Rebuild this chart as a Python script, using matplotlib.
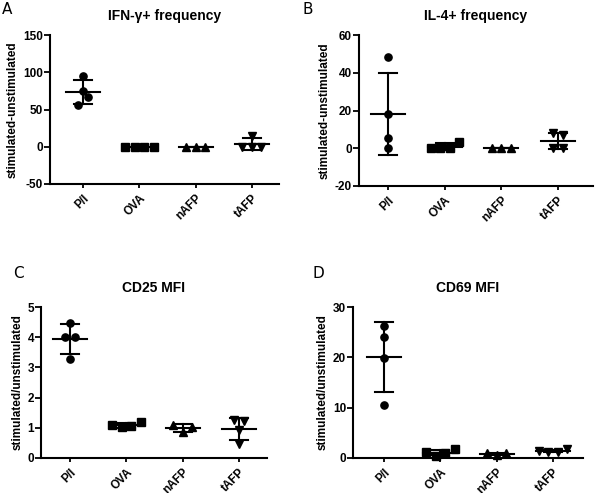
import numpy as np
import matplotlib
matplotlib.use('Agg')
import matplotlib.pyplot as plt

plt.rcParams['font.family'] = ['Liberation Sans', 'DejaVu Sans']
plt.rcParams['font.weight'] = 'bold'
plt.rcParams['axes.titleweight'] = 'bold'
plt.rcParams['axes.labelweight'] = 'bold'

groups = ['P/I', 'OVA', 'nAFP', 'tAFP']
markers = ['o', 's', '^', 'v']

# panel A: IFN-g+ frequency
ifn_pi = [56, 67, 75, 95]
ifn_ova = [0, 0, 0, 0]
ifn_nafp = [0, 0, 0]
ifn_tafp = [0, 0, 0, 15]

# panel B: IL-4+ frequency
il4_pi = [48.5, 18, 5.5, 0]
il4_ova = [0, 0, 0, 3.5]
il4_nafp = [0, 0, 0]
il4_tafp = [8.2, 7.2, 0.3, 0]

# panel C: CD25 MFI
cd25_pi = [4.47, 4.0, 4.0, 3.28]
cd25_ova = [1.08, 1.02, 1.05, 1.2]
cd25_nafp = [1.1, 0.85, 1.02]
cd25_tafp = [1.27, 1.22, 0.92, 0.48]

# panel D: CD69 MFI
cd69_pi = [26.2, 24.1, 19.8, 10.5]
cd69_ova = [1.2, 0.4, 1.0, 1.7]
cd69_nafp = [0.95, 0.5, 0.9]
cd69_tafp = [1.3, 1.2, 1.25, 1.8]

panels = [
    ('A', 'IFN-\u03b3+ frequency', 'stimulated-unstimulated',
     [ifn_pi, ifn_ova, ifn_nafp, ifn_tafp], (-50, 150), [-50, 0, 50, 100, 150]),
    ('B', 'IL-4+ frequency', 'stimulated-unstimulated',
     [il4_pi, il4_ova, il4_nafp, il4_tafp], (-20, 60), [-20, 0, 20, 40, 60]),
    ('C', 'CD25 MFI', 'stimulated/unstimulated',
     [cd25_pi, cd25_ova, cd25_nafp, cd25_tafp], (0, 5), [0, 1, 2, 3, 4, 5]),
    ('D', 'CD69 MFI', 'stimulated/unstimulated',
     [cd69_pi, cd69_ova, cd69_nafp, cd69_tafp], (0, 30), [0, 10, 20, 30]),
]

# axes boxes in pixels: left, right, top, bottom, and xlim
W, H = 600, 493
boxes = [
    (50, 279, 35, 184, (-0.59, 3.48)),
    (359, 593, 35, 186, (-0.52, 3.62)),
    (41, 267, 307, 458, (-0.52, 3.5)),
    (353, 583, 307, 458, (-0.55, 3.53)),
]
letter_pos = [(2, 14), (303, 14), (13, 278), (312, 278)]

fig = plt.figure(figsize=(6, 4.93), dpi=100)


def swarm(vals, px_per_unit, step_px, cat_px):
    # group points in rows (like prism scatter) and spread each row
    vals = np.asarray(vals, dtype=float)
    order = np.argsort(vals, kind='stable')
    offs = np.zeros(len(vals))
    rows = []
    cur = []
    for i in order:
        if cur and (vals[i] - vals[cur[0]]) * px_per_unit > 9:
            rows.append(cur)
            cur = []
        cur.append(i)
    rows.append(cur)
    for r in rows:
        r = sorted(r)
        n = len(r)
        for k, i in enumerate(r):
            offs[i] = (k - (n - 1) / 2) * step_px / cat_px
    return offs


for (letter, title, ylabel, data, ylim, yticks), (l, r, t, b, xlim), lp in zip(panels, boxes, letter_pos):
    ax = fig.add_axes([l / W, 1 - b / H, (r - l) / W, (b - t) / H])
    ax.set_xlim(*xlim)
    ax.set_ylim(*ylim)
    px_per_unit = (b - t) / (ylim[1] - ylim[0])
    cat_px = (r - l) / (xlim[1] - xlim[0])
    for i, vals in enumerate(data):
        offs = swarm(vals, px_per_unit, 9.5, cat_px)
        ax.plot(i + offs, vals, linestyle='none', marker=markers[i], color='black',
                markersize=5.2, clip_on=False, zorder=3)
        m = np.mean(vals)
        sd = np.std(vals, ddof=1)
        ax.plot([i - 0.3, i + 0.3], [m, m], color='black', lw=1.5, zorder=4)
        ax.plot([i, i], [m - sd, m + sd], color='black', lw=1.5, zorder=4)
        for y in (m - sd, m + sd):
            ax.plot([i - 0.16, i + 0.16], [y, y], color='black', lw=1.5, zorder=4)
    ax.set_xticks(range(len(groups)))
    ax.set_xticklabels(groups, rotation=45, ha='right', rotation_mode='anchor',
                       fontsize=8.5, fontweight='bold')
    ax.set_yticks(yticks)
    ax.set_yticklabels([str(v) for v in yticks], fontsize=8.5, fontweight='bold')
    ax.tick_params(axis='y', width=1.3, length=4, pad=1)
    ax.tick_params(axis='x', width=1.3, length=3, pad=3)
    for s in ('top', 'right'):
        ax.spines[s].set_visible(False)
    for s in ('left', 'bottom'):
        ax.spines[s].set_linewidth(1.5)
    ax.set_ylabel(ylabel, fontsize=8.5, labelpad=3)
    ax.set_title(title, fontsize=10, pad=11)
    fig.text(lp[0] / W, 1 - lp[1] / H, letter, fontsize=11, fontweight='normal',
             family='DejaVu Sans', va='baseline', ha='left')

fig.savefig('out.png', dpi=100)
